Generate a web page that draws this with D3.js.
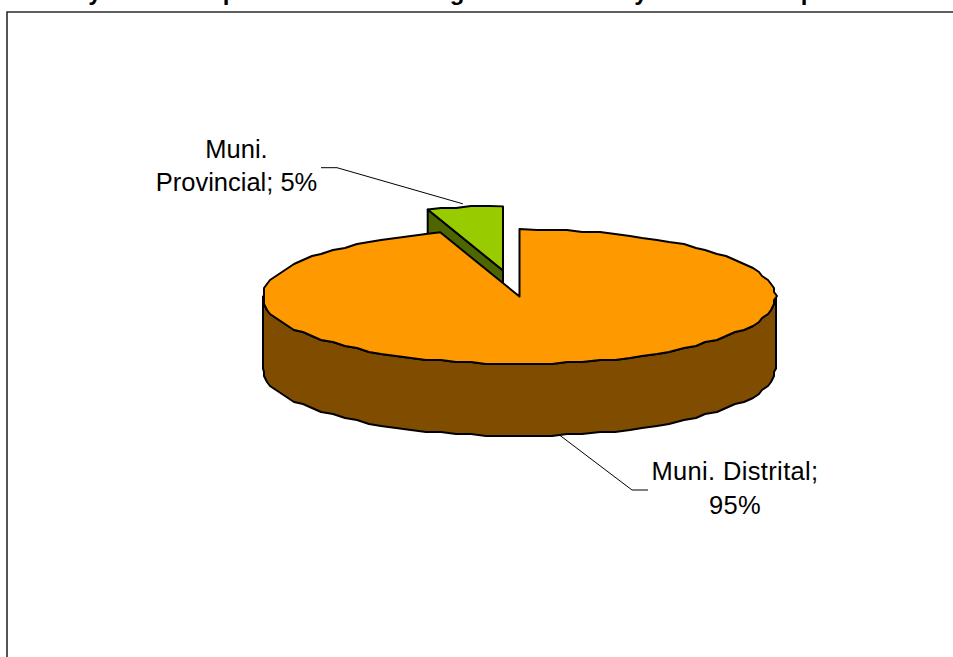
<!DOCTYPE html>
<html>
<head>
<meta charset="utf-8">
<script src="https://cdn.jsdelivr.net/npm/d3@7/dist/d3.min.js"></script>
<style>
html,body{margin:0;padding:0;background:#fff;overflow:hidden}
svg{display:block}
text{font-family:"Liberation Sans",Arial,sans-serif}
</style>
</head>
<body>
<div id="chart"></div>
<script>
// Data
const categories = ["Muni. Provincial", "Muni. Distrital"];
const values = [5, 95];
const labelLines = [["Muni.", "Provincial; 5%"], ["Muni. Distrital;", "95%"]];
const topColors = ["#99CC00", "#FF9900"];
const sideColors = ["#4D6600", "#804D00"];
// The title is cut off by the top of the image: only these descenders show
const titleGlyphs = ["y", "p", "g", "y", "p"];
const titleGlyphAt = [95, 230, 457, 641, 808];

const W = 953, H = 657;
const cx = 519.5, cy = 296.5, rx = 256.5, ry = 67.5, depth = 72;
const explode = {dx: -16.5, dy: -26, scale: 0.95};

const svg = d3.select("#chart").append("svg").attr("width", W).attr("height", H);

// Frame runs off the right and bottom of the image
svg.append("path")
  .attr("d", d3.line()([[953, 12], [7, 12], [7, 657]]))
  .attr("fill", "none").attr("stroke", "#2b2b2b").attr("stroke-width", 1.6);

// Clipped title
svg.selectAll("text.title").data(titleGlyphs).join("text")
  .attr("class", "title")
  .attr("x", (d, i) => titleGlyphAt[i]).attr("y", 0)
  .attr("text-anchor", "middle")
  .attr("font-size", 24).attr("font-weight", "bold").attr("fill", "#000")
  .text(d => d);

const pie = d3.pie().sort(null)
  .startAngle(-2 * Math.PI * 0.05).endAngle(2 * Math.PI * 0.95);
const arcs = pie(values);

const line = d3.line().curve(d3.curveLinear);
const STEP = Math.PI / 50;
const snap = (v, q) => Math.round(v / q) * q;

// Point on the projected pie rim for an angle measured clockwise from the top
function rim(a, o) {
  const ox = o.ox || 0, oy = o.oy || 0, s = o.s || 1;
  const x = cx + ox + s * rx * Math.sin(a);
  const y = cy + oy - s * ry * Math.cos(a);
  return [x, y];
}
function sample(a0, a1) {
  const n = Math.max(1, Math.ceil(Math.abs(a1 - a0) / STEP));
  return d3.range(n + 1).map(i => a0 + (a1 - a0) * i / n);
}
function rimPath(a0, a1, o) {
  return sample(a0, a1).map((a, i, all) => {
    const p = rim(a, o);
    if (i === 0 || i === all.length - 1) return p;
    return [snap(p[0], 3), snap(p[1], 2)];
  });
}
const stroke = sel => sel.attr("stroke", "#000").attr("stroke-width", 2)
  .attr("stroke-linejoin", "round");

// Exploded slice
const small = arcs[0];
const eo = {ox: explode.dx, oy: explode.dy, s: explode.scale};
const apex = [cx + eo.ox, cy + eo.oy];
const L = rim(small.startAngle, eo);
const dn = p => [p[0], p[1] + depth];
svg.append("path")
  .attr("d", line([L, apex, dn(apex), dn(L)]) + "Z")
  .attr("fill", sideColors[0]).call(stroke);
svg.append("path")
  .attr("d", line([apex, ...rimPath(small.startAngle, small.endAngle, eo)]) + "Z")
  .attr("fill", topColors[0]).call(stroke);

// Main slice: wall, then top
const big = arcs[1];
const front = rimPath(Math.PI / 2, 3 * Math.PI / 2, {});
svg.append("path")
  .attr("d", line([...front, ...front.slice().reverse().map(dn)]) + "Z")
  .attr("fill", sideColors[1]).call(stroke);
svg.append("path")
  .attr("d", line([[cx, cy], ...rimPath(big.startAngle, big.endAngle, {})]) + "Z")
  .attr("fill", topColors[1]).call(stroke);

// Leader lines start from each slice's middle angle on the rim
const mid = d => (d.startAngle + d.endAngle) / 2;
const leaderA = rim(mid(small), {ox: explode.dx, oy: explode.dy, s: 1});
const midBig = rim(mid(big), {});
const leaders = [
  [leaderA, [337, 167.7], [321, 167.7]],
  [dn(midBig), [632, 490], [648, 490]]
];
svg.selectAll("path.leader").data(leaders).join("path")
  .attr("class", "leader")
  .attr("d", d => line(d))
  .attr("fill", "none").attr("stroke", "#000").attr("stroke-width", 1);

// Labels
const labelPos = [{x: 236.5, y: [157.7, 191], ls: 0}, {x: 735, y: [480, 514], ls: 0.35}];
labelLines.forEach((lines, i) => {
  svg.selectAll("text.l" + i).data(lines).join("text")
    .attr("class", "l" + i)
    .attr("x", labelPos[i].x)
    .attr("y", (d, j) => labelPos[i].y[j])
    .attr("text-anchor", "middle")
    .attr("font-size", 25.5).attr("letter-spacing", labelPos[i].ls).attr("fill", "#000")
    .text(d => d);
});
</script>
</body>
</html>
